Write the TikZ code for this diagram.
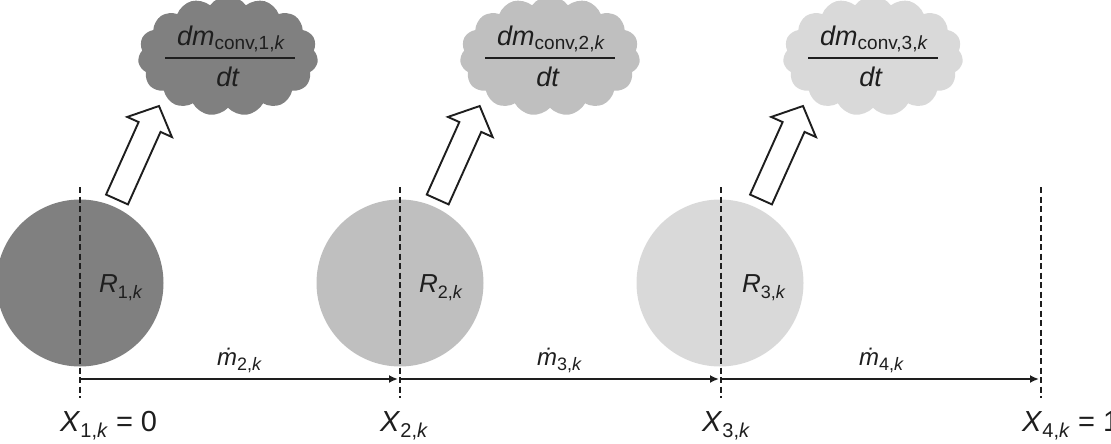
\documentclass[tikz,border=0pt]{standalone}
\usepackage{fontspec}
\setmainfont{Liberation Sans}
\usetikzlibrary{shapes.symbols,arrows.meta}
\definecolor{gdark}{RGB}{128,128,128}
\definecolor{gmid}{RGB}{191,191,191}
\definecolor{glight}{RGB}{217,217,217}
\definecolor{ink}{RGB}{30,30,30}
\newcommand\fsz[1]{\fontsize{#1}{#1}\selectfont}
\newcommand\lowsub[3]{\raisebox{-#1pt}{\fsz{#2}#3}}
\begin{document}
\begin{tikzpicture}[x=1pt,y=-1pt,
  puff/.style={cloud, cloud puffs=15, cloud puff arc=110, draw=none, minimum width=180pt, minimum height=120pt, inner sep=0pt},
  ball/.style={circle, draw=none, minimum size=167pt, inner sep=0pt},
  sep/.style={dashed, dash pattern=on 6pt off 3.5pt, line width=2.8pt, draw=ink},
  flow/.style={line width=2.2pt, draw=ink, -{Latex[length=9pt,width=8pt]}, shorten >=2pt},
  blk/.style={draw=ink, fill=white, line width=1.9pt, line join=miter},
  txt/.style={anchor=base west, inner sep=0pt, text=ink},
  ctxt/.style={anchor=base, inner sep=0pt, text=ink}]
\useasboundingbox (0,0) rectangle (1111,444);
% clouds
\node[puff, fill=gdark] (c1) at (228,56) {};
\node[puff, fill=gmid] (c2) at (550,56) {};
\node[puff, fill=glight] (c3) at (873,56) {};
% circles
\node[ball, fill=gdark] (b1) at (80,283) {};
\node[ball, fill=gmid] (b2) at (400,283) {};
\node[ball, fill=glight] (b3) at (720,283) {};
% dashed separators
\coordinate (t1) at (80,187); \coordinate (u1) at (80,398);
\coordinate (t2) at (400,187); \coordinate (u2) at (400,398);
\coordinate (t3) at (721,187); \coordinate (u3) at (721,398);
\coordinate (t4) at (1041,187); \coordinate (u4) at (1041,398);
\foreach \i in {1,2,3,4} \draw[sep] (t\i) -- (u\i);
% flow arrows
\coordinate (a1) at (80,379); \coordinate (a2) at (400,379);
\coordinate (a3) at (721,379); \coordinate (a4) at (1041,379);
\draw[flow] (a1) -- (a2);
\draw[flow] (a2) -- (a3);
\draw[flow] (a3) -- (a4);
% block arrows
\foreach \dx in {0,320.7,644} {
  \begin{scope}[shift={(117+\dx,199.5)}, rotate=65.8]
    \draw[blk] (0,-12) -- (79.5,-12) -- (79.5,-24.5) -- (102.5,0) -- (79.5,24.5) -- (79.5,12) -- (0,12) -- cycle;
  \end{scope}
}
% fractions
\foreach \n/\cx in {1/231,2/551,3/874} {
  \node[ctxt] (num\n) at (\cx,46) {\fsz{27}\textit{dm}\lowsub{3}{19}{conv,\n,\textit{k}}};
  \draw[line width=2.2pt, draw=ink] (\cx-66,58) -- (\cx+64,58);
  \node[ctxt] (den\n) at (\cx-3,86) {\fsz{27}\textit{dt}};
}
% radii
\node[txt] (r1) at (99,292) {\fsz{26}\textit{R}\lowsub{6}{18}{1,\textit{k}}};
\node[txt] (r2) at (419,292) {\fsz{26}\textit{R}\lowsub{6}{18}{2,\textit{k}}};
\node[txt] (r3) at (742,292) {\fsz{26}\textit{R}\lowsub{6}{18}{3,\textit{k}}};
% mass flows
\node[txt] (m2) at (217,365) {\fsz{24}\textit{\.m}\lowsub{5}{18}{2,\textit{k}}};
\node[txt] (m3) at (537,365) {\fsz{24}\textit{\.m}\lowsub{5}{18}{3,\textit{k}}};
\node[txt] (m4) at (859,365) {\fsz{24}\textit{\.m}\lowsub{5}{18}{4,\textit{k}}};
% positions
\node[txt] (x1) at (60,431) {\fsz{29}\textit{X}\lowsub{6}{20}{1,\textit{k}} = 0};
\node[txt] (x2) at (380,431) {\fsz{29}\textit{X}\lowsub{6}{20}{2,\textit{k}}};
\node[txt] (x3) at (702,431) {\fsz{29}\textit{X}\lowsub{6}{20}{3,\textit{k}}};
\node[txt] (x4) at (1022,431) {\fsz{29}\textit{X}\lowsub{6}{20}{4,\textit{k}} = 1};
\end{tikzpicture}
\end{document}
